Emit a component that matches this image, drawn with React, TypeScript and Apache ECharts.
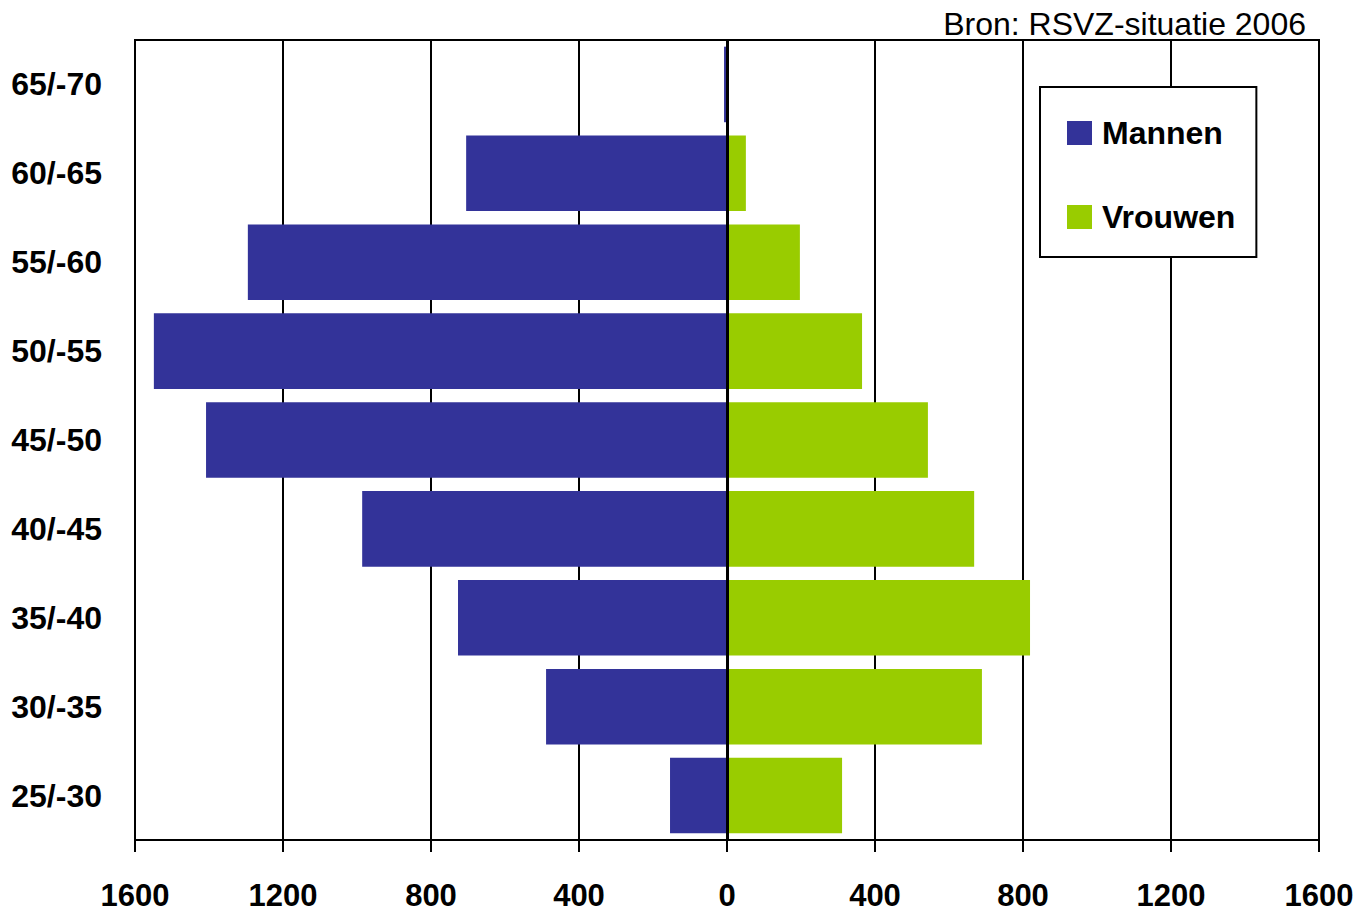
import React, { useEffect, useRef } from "react";
import * as echarts from "echarts";

const categories = ["65/-70", "60/-65", "55/-60", "50/-55", "45/-50", "40/-45", "35/-40", "30/-35", "25/-30"];
const mannen = [8, 705, 1295, 1549, 1408, 986, 727, 489, 154];
const vrouwen = [0, 51, 197, 365, 543, 668, 819, 689, 311];
const xTicks = { min: -1600, max: 1600, interval: 400 };

const FONT = "'Liberation Sans', Arial, sans-serif";
const BLUE = "#333399";
const GREEN = "#99CC00";

export default function App() {
  const ref = useRef<HTMLDivElement>(null);
  useEffect(() => {
    const chart = echarts.init(ref.current!, null, { renderer: "svg" });
    chart.setOption({
      animation: false,
      backgroundColor: "#ffffff",
      grid: {
        left: 135,
        right: 35,
        top: 40,
        bottom: 72,
        show: true,
        borderColor: "#000",
        borderWidth: 2,
        containLabel: false,
        outerBoundsMode: "none",
      },
      title: {
        text: "Bron: RSVZ-situatie 2006",
        right: 48,
        top: 8,
        padding: 0,
        textStyle: {
          fontFamily: FONT,
          fontWeight: "normal",
          fontSize: 32,
          color: "#000",
        },
      },
      legend: {
        orient: "vertical",
        left: 1040,
        top: 87,
        padding: [30, 21, 24, 27],
        itemGap: 52,
        itemWidth: 25,
        itemHeight: 24,
        borderColor: "#000",
        borderWidth: 2,
        backgroundColor: "#fff",
        icon: "rect",
        textStyle: {
          fontFamily: FONT,
          fontWeight: "bold",
          fontSize: 32,
          color: "#000",
          padding: [0, 0, 0, 5],
        },
        data: ["Mannen", "Vrouwen"],
      },
      xAxis: {
        type: "value",
        min: xTicks.min,
        max: xTicks.max,
        interval: xTicks.interval,
        axisLine: { show: true, lineStyle: { color: "#000", width: 2 } },
        axisTick: { show: true, length: 12, lineStyle: { color: "#000", width: 2 } },
        splitLine: { show: true, lineStyle: { color: "#000", width: 2 } },
        axisLabel: {
          margin: 40,
          formatter: (v: number) => String(Math.abs(v)),
          fontFamily: FONT,
          fontWeight: "bold",
          fontSize: 31,
          color: "#000",
        },
      },
      yAxis: {
        type: "category",
        data: categories,
        inverse: true,
        axisLine: { show: true, onZero: false, lineStyle: { color: "#000", width: 2 } },
        axisTick: { show: false },
        splitLine: { show: false },
        axisLabel: {
          margin: 33,
          fontFamily: FONT,
          fontWeight: "bold",
          fontSize: 32,
          color: "#000",
        },
      },
      series: [
        {
          name: "Mannen",
          type: "bar",
          stack: "total",
          barWidth: "85%",
          itemStyle: { color: BLUE },
          data: mannen.map((v) => -v),
        },
        {
          name: "Vrouwen",
          type: "bar",
          stack: "total",
          barWidth: "85%",
          itemStyle: { color: GREEN },
          data: vrouwen,
          markLine: {
            silent: true,
            symbol: "none",
            label: { show: false },
            lineStyle: { color: "#000", width: 3, type: "solid" },
            data: [{ xAxis: 0 }],
          },
        },
      ],
    });
    return () => chart.dispose();
  }, []);
  return (
    <div
      ref={ref}
      style={{ position: "absolute", left: 0, top: 0, width: 1354, height: 912 }}
    />
  );
}
